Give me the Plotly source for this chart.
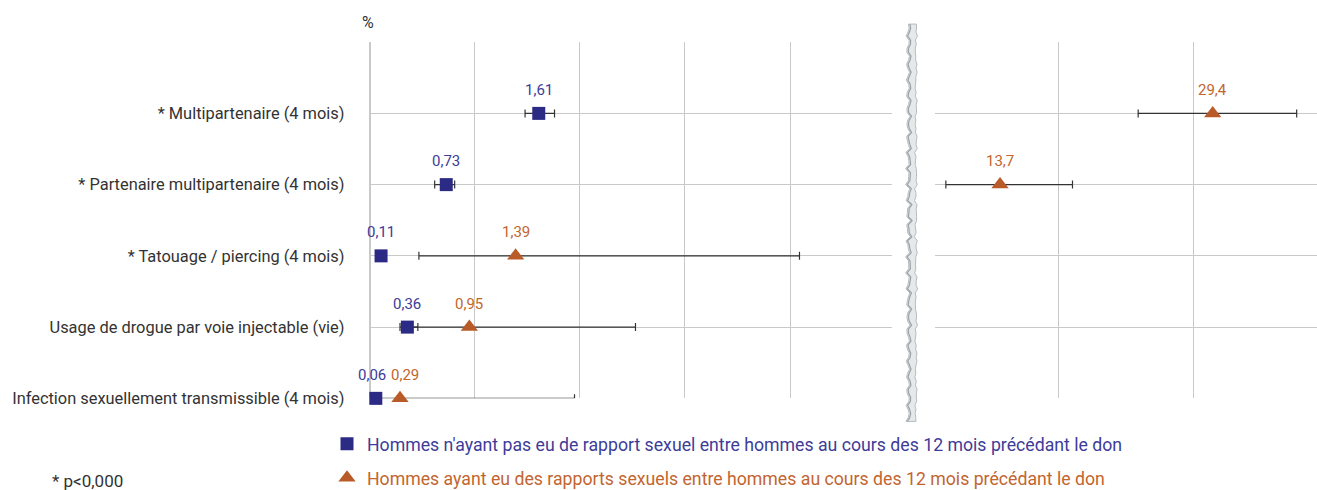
import math
import plotly.graph_objects as go

categories = [
    "* Multipartenaire (4 mois)",
    "* Partenaire multipartenaire (4 mois)",
    "* Tatouage / piercing (4 mois)",
    "Usage de drogue par voie injectable (vie)",
    "Infection sexuellement transmissible (4 mois)",
]
blue_vals = [1.61, 0.73, 0.11, 0.36, 0.06]
blue_low = [1.48, 0.62, 0.07, 0.29, 0.03]
blue_high = [1.76, 0.81, 0.16, 0.46, 0.10]
orange_vals = [29.4, 13.7, 1.39, 0.95, 0.29]
orange_low = [23.9, 9.7, 0.47, 0.33, 0.07]
orange_high = [35.6, 19.05, 4.09, 2.53, 1.95]
blue_name = "Hommes n'ayant pas eu de rapport sexuel entre hommes au cours des 12 mois précédant le don"
orange_name = "Hommes ayant eu des rapports sexuels entre hommes au cours des 12 mois précédant le don"

BLUE_M = "#2b2a84"
BLUE_T = "#3d3c98"
ORANGE_M = "#b95b29"
ORANGE_T = "#c2652f"
GRID = "#c9c9c9"
TXT = "#333333"
FONT = "Roboto"
W, H = 1317, 490          # visible window
HF = 600                  # figure height (extra room below the window so the legend never pushes margins)
SY = 500 / 490            # vertical compensation for the capture
LEFT_MAX = 5              # left panel upper bound

n = len(categories)
rows = [n - 1 - i for i in range(n)]


def fmt(v):
    return str(v).replace(".", ",")


def py(ypix):
    return 1 - ypix * SY / HF


fig = go.Figure()

# orange series split over the broken axis
left_idx = [i for i, v in enumerate(orange_vals) if v < LEFT_MAX]
right_idx = [i for i, v in enumerate(orange_vals) if v >= LEFT_MAX]
for idx, xa, ya, show in ((left_idx, "x", "y", True), (right_idx, "x2", "y2", False)):
    fig.add_trace(go.Scatter(
        x=[orange_vals[i] for i in idx], y=[rows[i] for i in idx], mode="markers",
        name=f"<span style='color:{ORANGE_T}'>{orange_name}</span>",
        marker=dict(symbol="triangle-up", size=15, color=ORANGE_M),
        error_x=dict(type="data", symmetric=False,
                     array=[orange_high[i] - orange_vals[i] for i in idx],
                     arrayminus=[orange_vals[i] - orange_low[i] for i in idx],
                     color=TXT, thickness=1.2, width=4),
        cliponaxis=False, showlegend=show, legendgroup="b", legendrank=2,
        xaxis=xa, yaxis=ya,
    ))

# blue series (left panel), drawn on top
fig.add_trace(go.Scatter(
    x=blue_vals, y=rows, mode="markers", name=f"<span style='color:{BLUE_T}'>{blue_name}</span>",
    marker=dict(symbol="square", size=13, color=BLUE_M),
    error_x=dict(type="data", symmetric=False,
                 array=[h - v for h, v in zip(blue_high, blue_vals)],
                 arrayminus=[v - l for v, l in zip(blue_vals, blue_low)],
                 color=TXT, thickness=1.2, width=4),
    cliponaxis=False, legendgroup="a", legendrank=1, xaxis="x", yaxis="y",
))

annotations = []
label_nudge = {4: (-4, 5)}  # small horizontal nudge for crowded last row (blue, orange)
for i in range(n):
    nb, no = label_nudge.get(i, (0, 0))
    annotations.append(dict(x=blue_vals[i], y=rows[i], xref="x", yref="y", text=fmt(blue_vals[i]),
                            showarrow=False, yshift=23.5, xshift=nb,
                            font=dict(family=FONT, size=15, color=BLUE_T)))
    xr = "x" if orange_vals[i] < LEFT_MAX else "x2"
    yr = "y" if orange_vals[i] < LEFT_MAX else "y2"
    annotations.append(dict(x=orange_vals[i], y=rows[i], xref=xr, yref=yr, text=fmt(orange_vals[i]),
                            showarrow=False, yshift=23.5, xshift=no,
                            font=dict(family=FONT, size=15, color=ORANGE_T)))

annotations.append(dict(x=368 / W, y=py(22), xref="paper", yref="paper", text="%",
                        showarrow=False, xanchor="center", yanchor="middle",
                        font=dict(family=FONT, size=16, color=TXT)))
annotations.append(dict(x=50 / W, y=py(479), xref="paper", yref="paper", text="* p<0,000",
                        showarrow=False, xanchor="left", yanchor="middle",
                        font=dict(family=FONT, size=17, color=TXT)))
fig.update_layout(annotations=annotations)

# axis-break decoration (jagged torn strip)
xc = 912
pts_l, pts_r = [], []
yy = 24
k = 0
while yy <= 420:
    j = 1.6 * math.sin(k * 1.7) + 1.0 * math.sin(k * 3.1 + 0.5)
    pts_l.append((xc - 4 + j, yy))
    pts_r.append((xc + 4 + 0.8 * j * math.cos(k), yy))
    yy += 4
    k += 1


def px(xp, yp):
    return f"{xp / W:.5f},{py(yp):.5f}"


path = "M " + " L ".join(px(a, b) for a, b in pts_l) + " L " + " L ".join(px(a, b) for a, b in reversed(pts_r)) + " Z"
line_path = "M " + " L ".join(px(a + 1.5, b) for a, b in pts_l)
fig.add_shape(type="path", path=path, xref="paper", yref="paper", fillcolor="#e6e9ea",
              line=dict(color="#b5bcc0", width=1))
fig.add_shape(type="path", path=line_path, xref="paper", yref="paper",
              line=dict(color="#9aa2a6", width=1.2))

ydom = [py(397), py(42)]
fig.update_layout(
    width=W, height=HF, margin=dict(l=0, r=0, t=0, b=0), autosize=False,
    paper_bgcolor="white", plot_bgcolor="white",
    font=dict(family=FONT, color=TXT),
    xaxis=dict(domain=[369.5 / W, 892 / W], range=[0, 4.97], dtick=1, tick0=0,
               showgrid=True, gridcolor=GRID, gridwidth=1, zeroline=True, zerolinecolor=GRID,
               showticklabels=False, showline=False),
    xaxis2=dict(domain=[935 / W, 1.0], range=[8.9, 37.1], tickvals=[18, 28], anchor="y2",
                showgrid=True, gridcolor=GRID, gridwidth=1, zeroline=False,
                showticklabels=False, showline=False),
    yaxis=dict(domain=ydom, range=[0, 5], tickvals=list(range(6)),
               ticktext=list(reversed(categories)) + [""],
               showgrid=True, gridcolor=GRID, gridwidth=1, zeroline=False,
               ticks="", ticklabelstandoff=24, showline=False,
               tickfont=dict(family=FONT, size=16.4, color=TXT)),
    yaxis2=dict(domain=ydom, range=[0, 5], dtick=1, anchor="x2",
                showgrid=True, gridcolor=GRID, gridwidth=1, zeroline=False,
                showticklabels=False, showline=False),
    legend=dict(x=327 / W, y=1 - 433 / HF, xanchor="left", yanchor="top",
                font=dict(family=FONT, size=17.7), tracegroupgap=8,
                bgcolor="rgba(0,0,0,0)"),
    showlegend=True,
)

fig.write_html(
    "out.html",
    config={"responsive": False, "displayModeBar": False},
    default_width=f"{W}px", default_height=f"{HF}px",
    post_script="document.body.style.margin='0';document.body.style.overflow='hidden';"
                "document.documentElement.style.overflow='hidden';",
)
